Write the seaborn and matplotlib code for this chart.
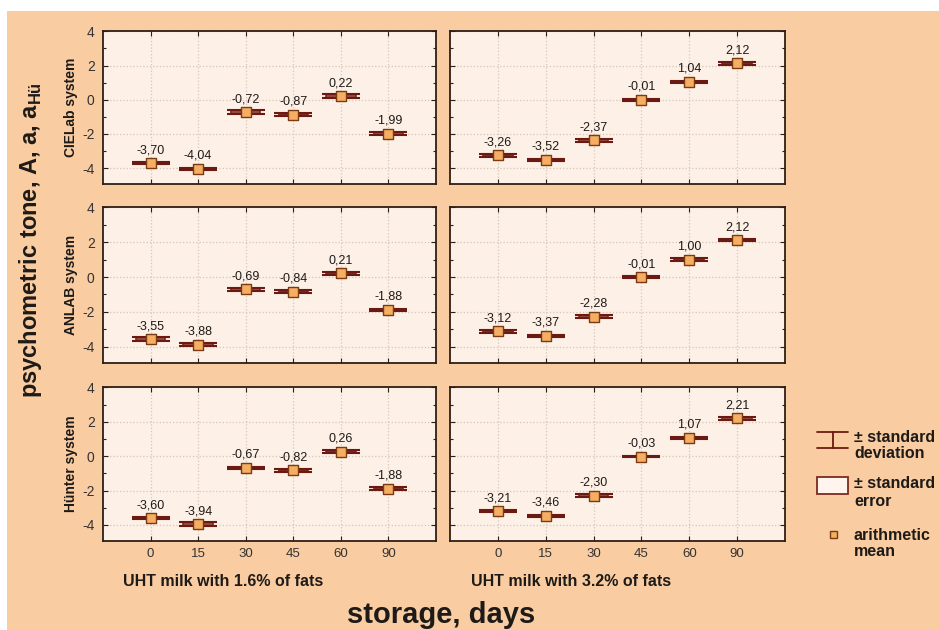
import numpy as np
import pandas as pd
import matplotlib
matplotlib.use("Agg")
import matplotlib.pyplot as plt
from matplotlib.patches import Rectangle
from matplotlib.lines import Line2D
from matplotlib.ticker import MultipleLocator, FixedLocator
from matplotlib import font_manager
import seaborn as sns

# ---- data -------------------------------------------------------------
days = [0, 15, 30, 45, 60, 90]
systems = ["CIELab system", "ANLAB system", "Hünter system"]
milks = ["UHT milk with 1.6% of fats", "UHT milk with 3.2% of fats"]

cielab_16 = [-3.70, -4.04, -0.72, -0.87, 0.22, -1.99]
cielab_32 = [-3.26, -3.52, -2.37, -0.01, 1.04, 2.12]
anlab_16 = [-3.55, -3.88, -0.69, -0.84, 0.21, -1.88]
anlab_32 = [-3.12, -3.37, -2.28, -0.01, 1.00, 2.12]
hunter_16 = [-3.60, -3.94, -0.67, -0.82, 0.26, -1.88]
hunter_32 = [-3.21, -3.46, -2.30, -0.03, 1.07, 2.21]

cielab_16_sd = [0.07, 0.06, 0.12, 0.08, 0.12, 0.09]
cielab_32_sd = [0.08, 0.08, 0.09, 0.06, 0.06, 0.07]
anlab_16_sd = [0.12, 0.10, 0.09, 0.08, 0.07, 0.07]
anlab_32_sd = [0.08, 0.07, 0.08, 0.06, 0.09, 0.07]
hunter_16_sd = [0.07, 0.09, 0.06, 0.08, 0.09, 0.06]
hunter_32_sd = [0.06, 0.07, 0.10, 0.04, 0.05, 0.08]

means = {
    (systems[0], milks[0]): cielab_16, (systems[0], milks[1]): cielab_32,
    (systems[1], milks[0]): anlab_16, (systems[1], milks[1]): anlab_32,
    (systems[2], milks[0]): hunter_16, (systems[2], milks[1]): hunter_32,
}
sds = {
    (systems[0], milks[0]): cielab_16_sd, (systems[0], milks[1]): cielab_32_sd,
    (systems[1], milks[0]): anlab_16_sd, (systems[1], milks[1]): anlab_32_sd,
    (systems[2], milks[0]): hunter_16_sd, (systems[2], milks[1]): hunter_32_sd,
}

rows = []
for (sysname, milk), vals in means.items():
    for i, (d, m, s) in enumerate(zip(days, vals, sds[(sysname, milk)])):
        rows.append(dict(system=sysname, milk=milk, day=d, pos=i,
                         mean=m, sd=s, se=s / 2))
df = pd.DataFrame(rows)

# ---- style ------------------------------------------------------------
sns.set_style("ticks")
plt.rcParams["font.family"] = ["Liberation Sans", "DejaVu Sans"]
plt.rcParams["axes.unicode_minus"] = False
plt.rcParams["mathtext.fontset"] = "custom"
plt.rcParams["mathtext.rm"] = "Liberation Sans"
plt.rcParams["mathtext.bf"] = "Liberation Sans:bold"


def has_font(name):
    try:
        font_manager.findfont(font_manager.FontProperties(family=name),
                              fallback_to_default=False)
        return True
    except Exception:
        return False


narrow = "Liberation Sans Narrow" if has_font("Liberation Sans Narrow") else None

PEACH = "#F9CDA1"
PANEL = "#FCF0E7"
SPINE = "#2E1F16"
SD_COL = "#6A1A12"
BOX_EDGE = "#7E2A1C"
BOX_FACE = "#FFF5EE"
MEAN_FACE = "#F5AE62"
MEAN_EDGE = "#7A3A14"
TXT = "#1E1A18"

W, H = 939, 630
fig = plt.figure(figsize=(W / 100, H / 100), dpi=100)
fig.patch.set_facecolor("white")
fig.add_artist(Rectangle((7 / W, 0), 1 - 7 / W, 1 - 11 / H,
                         transform=fig.transFigure, facecolor=PEACH,
                         edgecolor="none", zorder=-10))

col_x = [(103, 436), (450, 785)]
row_y = [(31, 184), (207, 363), (387, 541)]

tick_font = dict(family=narrow, size=11) if narrow else dict(size=9.5)

for r, sysname in enumerate(systems):
    for c, milk in enumerate(milks):
        x0, x1 = col_x[c]
        y0, y1 = row_y[r]
        ax = fig.add_axes([x0 / W, 1 - y1 / H, (x1 - x0) / W, (y1 - y0) / H])
        ax.set_facecolor(PANEL)
        sub = df[(df.system == sysname) & (df.milk == milk)]

        # +/- standard error box
        ax.bar(sub["pos"], 2 * sub["se"], bottom=sub["mean"] - sub["se"],
               width=0.62, facecolor=BOX_FACE, edgecolor=BOX_EDGE,
               linewidth=1.2, zorder=3)
        # +/- standard deviation whiskers
        ax.errorbar(sub["pos"], sub["mean"], yerr=sub["sd"], fmt="none",
                    ecolor=SD_COL, elinewidth=1.2, capsize=14, capthick=1.5,
                    zorder=4)
        # arithmetic mean
        sns.scatterplot(data=sub, x="pos", y="mean", ax=ax, marker="s", s=60,
                        color=MEAN_FACE, edgecolor=MEAN_EDGE, linewidth=1.0,
                        zorder=5, legend=False)
        for p, m in zip(sub["pos"], sub["mean"]):
            ax.annotate(f"{m:.2f}".replace(".", ","), (p, m), xytext=(0, 5),
                        textcoords="offset points", ha="center", va="bottom",
                        fontsize=9, color=TXT, zorder=6)

        ax.set_xlim(-1, 6)
        ax.set_ylim(-4.93, 4.02)
        ax.xaxis.set_major_locator(FixedLocator(range(len(days))))
        ax.yaxis.set_major_locator(FixedLocator([-4, -2, 0, 2, 4]))
        ax.yaxis.set_minor_locator(MultipleLocator(1))
        ax.grid(True, which="major", linestyle=":", color="#D8C6B6",
                linewidth=0.9, zorder=0)
        ax.set_axisbelow(True)
        ax.tick_params(which="both", direction="in", top=True, right=True,
                       color=SPINE, width=0.8)
        ax.tick_params(which="major", length=3.5)
        ax.tick_params(which="minor", length=2.5)
        ax.tick_params(axis="y", pad=6, labelsize=10, labelcolor="#333333")
        ax.tick_params(axis="x", pad=5, labelcolor="#333333")
        for sp in ax.spines.values():
            sp.set_color(SPINE)
            sp.set_linewidth(1.3)
        ax.set_xlabel("")
        ax.set_ylabel("")
        if r == len(systems) - 1:
            ax.set_xticklabels([str(d) for d in days], **tick_font)
        else:
            ax.set_xticklabels([])
        if c != 0:
            ax.set_yticklabels([])

# row labels
for r, sysname in enumerate(systems):
    y0, y1 = row_y[r]
    fig.text(71 / W, 1 - (y0 + y1) / 2 / H, sysname, rotation=90,
             ha="center", va="center", fontsize=10, fontweight="bold",
             color=TXT)

# column labels
for cx, milk in zip([223, 571], milks):
    fig.text(cx / W, 1 - 581 / H, milk, ha="center", va="center",
             fontsize=11.5, fontweight="bold", color=TXT)

fig.text(31 / W, 1 - 240 / H, "psychometric tone, A, a, a$_{\\mathbf{Hü}}$",
         rotation=90, ha="center", va="center", fontsize=17,
         fontweight="bold", color=TXT)
fig.text(441 / W, 1 - 615 / H, "storage, days", ha="center", va="center",
         fontsize=21, fontweight="bold", color=TXT)

# legend drawn in pixel coordinates
lax = fig.add_axes([0, 0, 1, 1], facecolor="none")
lax.set_xlim(0, W)
lax.set_ylim(H, 0)
lax.axis("off")
lax.add_line(Line2D([817, 848], [432, 432], color=SD_COL, lw=1.3))
lax.add_line(Line2D([817, 848], [448, 448], color=SD_COL, lw=1.3))
lax.add_line(Line2D([833, 833], [432, 448], color=SD_COL, lw=1.3))
lax.add_patch(Rectangle((817, 477), 31, 17, facecolor=BOX_FACE,
                        edgecolor=BOX_EDGE, lw=1.3))
lax.add_patch(Rectangle((830, 531), 7, 7, facecolor=MEAN_FACE,
                        edgecolor=MEAN_EDGE, lw=1.0))
legend_lines = [("± standard", 438), ("deviation", 454),
                ("± standard", 484), ("error", 501),
                ("arithmetic", 535), ("mean", 551)]
for txt, yy in legend_lines:
    lax.text(854, yy, txt, ha="left", va="center", fontsize=11.5,
             fontweight="bold", color=TXT)

fig.savefig("out.png", dpi=100, facecolor=fig.get_facecolor())
